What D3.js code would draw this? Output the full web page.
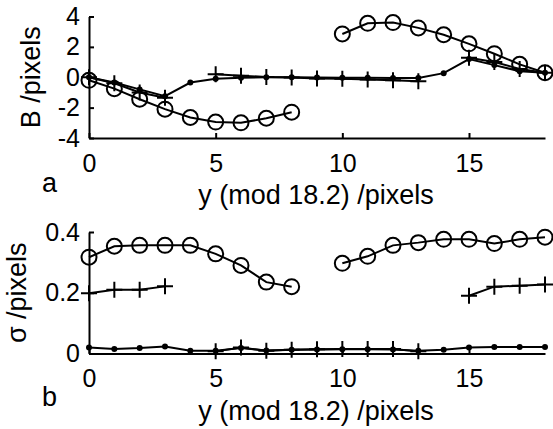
<!DOCTYPE html>
<html>
<head>
<meta charset="utf-8">
<script src="https://cdn.jsdelivr.net/npm/d3@7"></script>
<style>
  body { margin: 0; background: #fff; }
  svg { display: block; font-family: "Liberation Sans", Arial, sans-serif; }
  .axis path, .axis line { stroke: #000; stroke-width: 2; }
  .axis text { font-size: 25px; fill: #000; }
  .lbl { font-size: 27px; fill: #000; }
</style>
</head>
<body>
<svg id="chart" width="553" height="429"></svg>
<script>

// x positions
var xsAll = d3.range(0, 19);
var xsLeft = d3.range(0, 9);
var xsRight = d3.range(10, 19);
var xsPlus1 = [0, 1, 2, 3];
var xsPlus2 = d3.range(5, 14);
var xsPlus3 = [15, 16, 17, 18];

// panel a : B /pixels
var aCircleLeft = [-0.2, -0.75, -1.45, -2.1, -2.65, -2.95, -3.0, -2.7, -2.3];
var aCircleRight = [2.85, 3.55, 3.6, 3.25, 2.8, 2.2, 1.55, 0.85, 0.3];
var aPlus1 = [0, -0.4, -1.0, -1.35];
var aPlus2 = [0.2, 0.1, 0.02, -0.02, -0.08, -0.1, -0.15, -0.2, -0.27];
var aPlus3 = [1.28, 1.0, 0.55, 0.3];
var aDots = [0, -0.35, -0.8, -1.25, -0.35, -0.1, -0.03, 0, 0, -0.02, -0.03, -0.04, -0.05, -0.05, 0.27, 1.2, 0.8, 0.4, 0.3];
var aTicks = [-4, -2, 0, 2, 4];

// panel b : sigma /pixels
var bCircleLeft = [0.317, 0.353, 0.356, 0.356, 0.356, 0.328, 0.29, 0.235, 0.22];
var bCircleRight = [0.297, 0.32, 0.356, 0.365, 0.376, 0.376, 0.362, 0.376, 0.383];
var bPlus1 = [0.198, 0.21, 0.21, 0.221];
var bPlus2 = [0.007, 0.02, 0.009, 0.012, 0.014, 0.015, 0.015, 0.015, 0.007];
var bPlus3 = [0.19, 0.22, 0.223, 0.227];
var bDots = [0.02, 0.015, 0.018, 0.023, 0.009, 0.009, 0.018, 0.01, 0.012, 0.013, 0.014, 0.014, 0.013, 0.009, 0.012, 0.02, 0.021, 0.021, 0.021];
var bTicks = [0, 0.2, 0.4];

var xTicks = [0, 5, 10, 15];
var xLabel = 'y (mod 18.2) /pixels';

var svg = d3.select('#chart');

var x = d3.scaleLinear().domain([0, 18]).range([89, 545]);

function zip(xs, ys) {
    return xs.map(function(d, i) { return [d, ys[i]]; });
}

function drawPanel(opts) {

    var y = d3.scaleLinear().domain(opts.domain).range(opts.range);

    var g = svg.append('g');

    var line = d3.line()
        .x(function(d) { return x(d[0]); })
        .y(function(d) { return y(d[1]); });

    // axes
    g.append('g')
        .attr('class', 'axis')
        .attr('transform', 'translate(0,' + opts.range[0] + ')')
        .call(d3.axisBottom(x).tickValues(xTicks).tickSizeInner(-5).tickSizeOuter(0).tickPadding(16)
            .tickFormat(function(d) { return String(d); }));

    g.append('g')
        .attr('class', 'axis')
        .attr('transform', 'translate(' + x(0) + ',0)')
        .call(d3.axisLeft(y).tickValues(opts.ticks).tickSizeInner(-5).tickSizeOuter(0).tickPadding(9)
            .tickFormat(function(d) { return String(d); }));

    svg.selectAll('.axis .domain').attr('fill', 'none');

    // series
    opts.series.forEach(function(s) {

        var pts = zip(s.xs, s.ys);

        g.append('path')
            .attr('d', line(pts))
            .attr('fill', 'none')
            .attr('stroke', '#000')
            .attr('stroke-width', 2);

        if (s.mark == 'circle') {
            g.selectAll(null).data(pts).enter().append('circle')
                .attr('cx', function(d) { return x(d[0]); })
                .attr('cy', function(d) { return y(d[1]); })
                .attr('r', 7.5)
                .attr('fill', 'none')
                .attr('stroke', '#000')
                .attr('stroke-width', 2);
        } else if (s.mark == 'plus') {
            g.selectAll(null).data(pts).enter().append('path')
                .attr('d', function(d) {
                    var cx = x(d[0]), cy = y(d[1]);
                    return 'M' + (cx - 8) + ',' + cy + 'H' + (cx + 8) + 'M' + cx + ',' + (cy - 8) + 'V' + (cy + 8);
                })
                .attr('stroke', '#000')
                .attr('stroke-width', 2);
        } else {
            g.selectAll(null).data(pts).enter().append('circle')
                .attr('cx', function(d) { return x(d[0]); })
                .attr('cy', function(d) { return y(d[1]); })
                .attr('r', 3)
                .attr('fill', '#000');
        }
    });

    // labels
    svg.append('text')
        .attr('class', 'lbl')
        .attr('x', 316)
        .attr('y', opts.range[0] + 66)
        .attr('text-anchor', 'middle')
        .text(xLabel);

    svg.append('text')
        .attr('class', 'lbl')
        .attr('transform', 'translate(' + opts.ylabelX + ',' + ((opts.range[0] + opts.range[1]) / 2) + ') rotate(-90)')
        .attr('text-anchor', 'middle')
        .text(opts.ylabel);

    svg.append('text')
        .attr('class', 'lbl')
        .attr('x', 42)
        .attr('y', opts.range[0] + opts.letterDy)
        .text(opts.letter);
}

drawPanel({
    domain: [-4, 4],
    range: [138, 16.5],
    ticks: aTicks,
    ylabel: 'B /pixels',
    ylabelX: 40,
    letter: 'a',
    letterDy: 54,
    series: [
        { xs: xsLeft, ys: aCircleLeft, mark: 'circle' },
        { xs: xsRight, ys: aCircleRight, mark: 'circle' },
        { xs: xsPlus1, ys: aPlus1, mark: 'plus' },
        { xs: xsPlus2, ys: aPlus2, mark: 'plus' },
        { xs: xsPlus3, ys: aPlus3, mark: 'plus' },
        { xs: xsAll, ys: aDots, mark: 'dot' }
    ]
});

drawPanel({
    domain: [0, 0.4],
    range: [353.5, 232],
    ticks: bTicks,
    ylabel: 'σ /pixels',
    ylabelX: 26,
    letter: 'b',
    letterDy: 52,
    series: [
        { xs: xsLeft, ys: bCircleLeft, mark: 'circle' },
        { xs: xsRight, ys: bCircleRight, mark: 'circle' },
        { xs: xsPlus1, ys: bPlus1, mark: 'plus' },
        { xs: xsPlus2, ys: bPlus2, mark: 'plus' },
        { xs: xsPlus3, ys: bPlus3, mark: 'plus' },
        { xs: xsAll, ys: bDots, mark: 'dot' }
    ]
});

</script>
</body>
</html>
